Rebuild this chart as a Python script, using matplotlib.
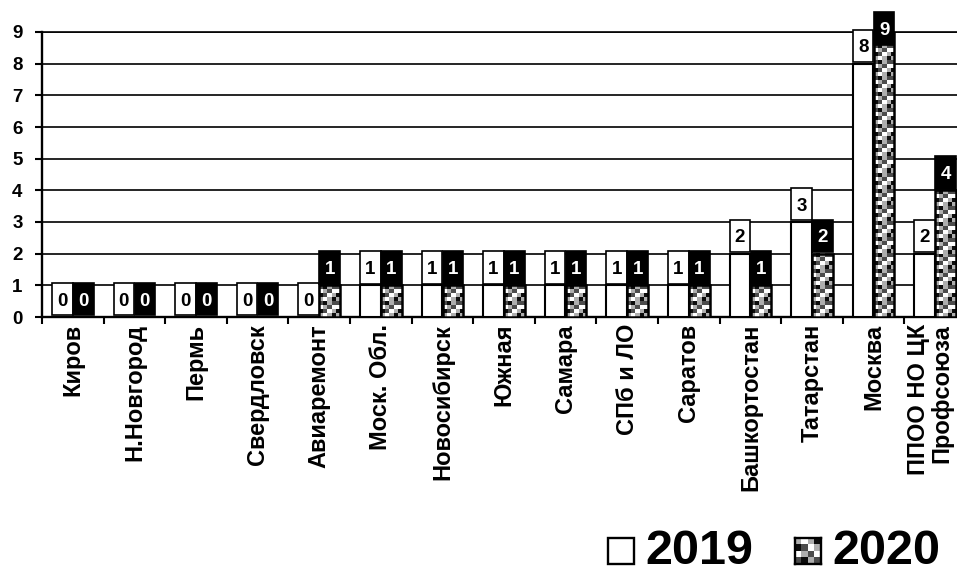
import numpy as np
import matplotlib
matplotlib.use("Agg")
import matplotlib.pyplot as plt
import matplotlib.transforms as mtransforms
from matplotlib.patches import Rectangle

plt.rcParams["font.family"] = ["Liberation Sans", "DejaVu Sans"]
plt.rcParams["font.weight"] = "bold"

# ---- data -------------------------------------------------------------
categories = ["Киров", "Н.Новгород", "Пермь", "Свердловск", "Авиаремонт",
              "Моск. Обл.", "Новосибирск", "Южная", "Самара", "СПб и ЛО",
              "Саратов", "Башкортостан", "Татарстан", "Москва",
              "ППОО НО ЦК\nПрофсоюза"]
values_2019 = [0, 0, 0, 0, 0, 1, 1, 1, 1, 1, 1, 2, 3, 8, 2]
values_2020 = [0, 0, 0, 0, 1, 1, 1, 1, 1, 1, 1, 1, 2, 9, 4]
y_ticks = list(range(0, 10))
series_names = ["2019", "2020"]

# ---- checkered fill used for the 2020 series ---------------------------
K, D, L, Wt = 0.05, 0.30, 0.68, 1.0
TILE = np.array([[L, Wt, L, K],
                 [K, D, Wt, L],
                 [Wt, L, D, Wt],
                 [D, K, L, D]])
CELL_PX = 4.0


def texture(nrow, ncol):
    reps = (nrow // TILE.shape[0] + 1, ncol // TILE.shape[1] + 1)
    return np.tile(TILE, reps)[:nrow, :ncol]


# ---- figure ------------------------------------------------------------
FW, FH = 957, 575
fig = plt.figure(figsize=(FW / 100, FH / 100), dpi=100)
ax = fig.add_axes([42 / FW, 1 - 317 / FH, 924 / FW, 285 / FH])

x = np.arange(len(categories))
bw = 0.335
off = 0.17
xlim = (-0.5, len(categories) - 0.5)
ylim = (0, 9)
ax.set_xlim(*xlim)
ax.set_ylim(*ylim)

ax.bar(x - off, values_2019, bw, facecolor="white", edgecolor="black",
       linewidth=1.5, zorder=3)
ax.bar(x + off, values_2020, bw, facecolor="none", edgecolor="black",
       linewidth=1.8, zorder=5)

# pixel scale of one data unit, used to size the checker cells
p0 = ax.transData.transform((0, 0))
p1 = ax.transData.transform((1, 1))
ppx, ppy = p1[0] - p0[0], p1[1] - p0[1]

for xi, v in zip(x, values_2020):
    if v <= 0:
        continue
    x0 = xi + off - bw / 2
    ncol = max(1, int(round(bw * ppx / CELL_PX)))
    nrow = max(1, int(round(v * ppy / CELL_PX)))
    ax.imshow(texture(nrow, ncol), cmap="gray", vmin=0, vmax=1,
              extent=(x0, x0 + bw, 0, v), origin="lower",
              interpolation="nearest", aspect="auto", zorder=4)

ax.set_xlim(*xlim)
ax.set_ylim(*ylim)

# value boxes sit just above each bar but never above the chart area
BOX_H = 1.02
BOX_CEIL = 9.62


def value_box(xc, v, face, color):
    y0 = min(v + 0.05, BOX_CEIL - BOX_H)
    ax.add_patch(Rectangle((xc - bw / 2, y0), bw, BOX_H,
                           facecolor=face, edgecolor="black", linewidth=1.2,
                           zorder=7, clip_on=False))
    ax.text(xc, y0 + 0.31, str(v), ha="center", va="baseline", fontsize=13.5,
            fontweight="bold", color=color, zorder=8, clip_on=False)


for xi, v in zip(x, values_2019):
    value_box(xi - off, v, "white", "black")
for xi, v in zip(x, values_2020):
    value_box(xi + off, v, "black", "white")

# ---- axes styling --------------------------------------------------------
ax.set_axisbelow(True)
ax.yaxis.grid(True, color="black", linewidth=1.2)
ax.spines["right"].set_visible(False)
ax.spines["top"].set_linewidth(1.2)
ax.spines["left"].set_linewidth(1.7)
ax.spines["bottom"].set_linewidth(1.7)

ax.set_yticks(y_ticks)
ax.set_yticklabels([str(t) for t in y_ticks], fontsize=13.5, fontweight="bold")
ax.tick_params(axis="y", length=5, width=1.5, pad=9)

ax.set_xticks(x)
ax.set_xticks(np.arange(len(categories) + 1) - 0.5, minor=True)
labels = ax.set_xticklabels(categories, rotation=90, fontsize=17,
                            fontweight="bold")
for lab in labels:
    lab.set_multialignment("right")
ax.tick_params(axis="x", which="major", length=0, pad=5)
ax.tick_params(axis="x", which="minor", length=5, width=1.5)

# keep the two-line label at the right edge inside the canvas
last = labels[-1]
last.set_linespacing(1.0)
last.set_transform(last.get_transform() +
                   mtransforms.ScaledTranslation(-5 / 100, 0,
                                                 fig.dpi_scale_trans))

# ---- legend --------------------------------------------------------------
BASE = 564
fig.add_artist(Rectangle((608 / FW, 1 - BASE / FH), 26 / FW, 26 / FH,
                         transform=fig.transFigure, facecolor="white",
                         edgecolor="black", linewidth=1.7))
fig.text(645 / FW, 1 - BASE / FH, series_names[0], fontsize=35,
         fontweight="bold", ha="left", va="baseline")

lax = fig.add_axes([795 / FW, 1 - BASE / FH, 26 / FW, 26 / FH])
lax.imshow(texture(4, 4), cmap="gray", vmin=0, vmax=1,
           interpolation="nearest", aspect="auto")
lax.set_xticks([])
lax.set_yticks([])
for s in lax.spines.values():
    s.set_linewidth(1.7)
    s.set_color("black")
fig.text(832 / FW, 1 - BASE / FH, series_names[1], fontsize=35,
         fontweight="bold", ha="left", va="baseline")

fig.savefig("out.png", dpi=100)
